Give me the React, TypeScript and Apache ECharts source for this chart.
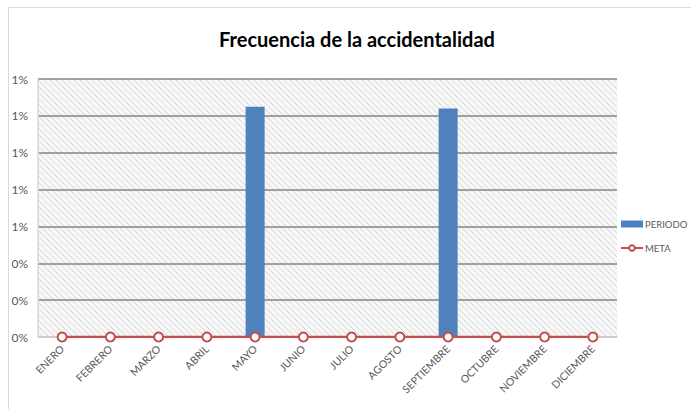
import React, { useEffect, useRef } from "react";
import * as echarts from "echarts";

const categories = ["ENERO", "FEBRERO", "MARZO", "ABRIL", "MAYO", "JUNIO", "JULIO", "AGOSTO", "SEPTIEMBRE", "OCTUBRE", "NOVIEMBRE", "DICIEMBRE"];
const periodo = [0, 0, 0, 0, 1.25, 0, 0, 0, 1.24, 0, 0, 0];
const meta = [0, 0, 0, 0, 0, 0, 0, 0, 0, 0, 0, 0];

function makeHatch(): HTMLCanvasElement {
  const c = document.createElement("canvas");
  c.width = 6;
  c.height = 6;
  const ctx = c.getContext("2d")!;
  ctx.fillStyle = "#f7f7f7";
  ctx.fillRect(0, 0, 6, 6);
  ctx.strokeStyle = "#d6d6d6";
  ctx.lineWidth = 1;
  ctx.beginPath();
  ctx.moveTo(-1, -1);
  ctx.lineTo(7, 7);
  ctx.moveTo(-4, 2);
  ctx.lineTo(4, 10);
  ctx.moveTo(2, -4);
  ctx.lineTo(10, 4);
  ctx.stroke();
  return c;
}

export default function App() {
  const ref = useRef<HTMLDivElement>(null);
  useEffect(() => {
    if (!ref.current) return;
    const chart = echarts.init(ref.current, null, { renderer: "svg" });
    const font = "Lato, 'Liberation Sans', Arial, sans-serif";
    chart.setOption({
      animation: false,
      textStyle: { fontFamily: font },
      title: {
        text: "Frecuencia de la accidentalidad",
        left: 352,
        textAlign: "center",
        top: 24,
        textStyle: { fontFamily: font, fontWeight: "bold", fontSize: 20, color: "#000" },
      },
      graphic: [
        {
          type: "polyline",
          shape: { points: [[8.5, 420], [8.5, 7.5], [700, 7.5]] },
          style: { stroke: "#d9d9d9", fill: "none", lineWidth: 1 },
          silent: true,
        },
      ],
      legend: {
        orient: "vertical",
        left: 620,
        top: 219,
        padding: 0,
        itemGap: 14,
        itemWidth: 22,
        itemHeight: 7,
        textStyle: { fontSize: 9.5, color: "#595959", fontFamily: font, padding: [0, 0, 0, -3] },
        data: [
          { name: "PERIODO", icon: "rect" },
          { name: "META" },
        ],
      },
      grid: {
        left: 38,
        right: 74,
        top: 79,
        bottom: 72,
        show: true,
        borderWidth: 0,
        backgroundColor: { image: makeHatch(), repeat: "repeat" },
      },
      xAxis: {
        type: "category",
        data: categories,
        axisLine: { lineStyle: { color: "#d9d9d9", width: 1.5 } },
        axisTick: { show: false },
        axisLabel: { rotate: 45, color: "#595959", fontSize: 10.5, margin: 10, fontFamily: font },
      },
      yAxis: {
        type: "value",
        min: 0,
        max: 1.4,
        interval: 0.2,
        axisLine: { show: true, lineStyle: { color: "#d9d9d9", width: 1.5 } },
        axisTick: { show: false },
        axisLabel: {
          color: "#595959",
          fontSize: 12,
          margin: 10,
          fontFamily: font,
          formatter: (v: number) => Math.round(v) + "%",
        },
        splitLine: { lineStyle: { color: "#868686", width: 1.5 } },
      },
      series: [
        {
          name: "PERIODO",
          type: "bar",
          data: periodo,
          barWidth: 19,
          itemStyle: { color: "#4f81bd" },
        },
        {
          name: "META",
          type: "line",
          data: meta,
          symbol: "circle",
          symbolSize: 9,
          lineStyle: { color: "#c0504d", width: 2.5 },
          itemStyle: { color: "#ffffff", borderColor: "#c0504d", borderWidth: 2 },
        },
      ],
    });
    return () => chart.dispose();
  }, []);
  return <div ref={ref} style={{ position: "fixed", left: 0, top: 0, width: 691, height: 409, background: "#fff" }} />;
}
